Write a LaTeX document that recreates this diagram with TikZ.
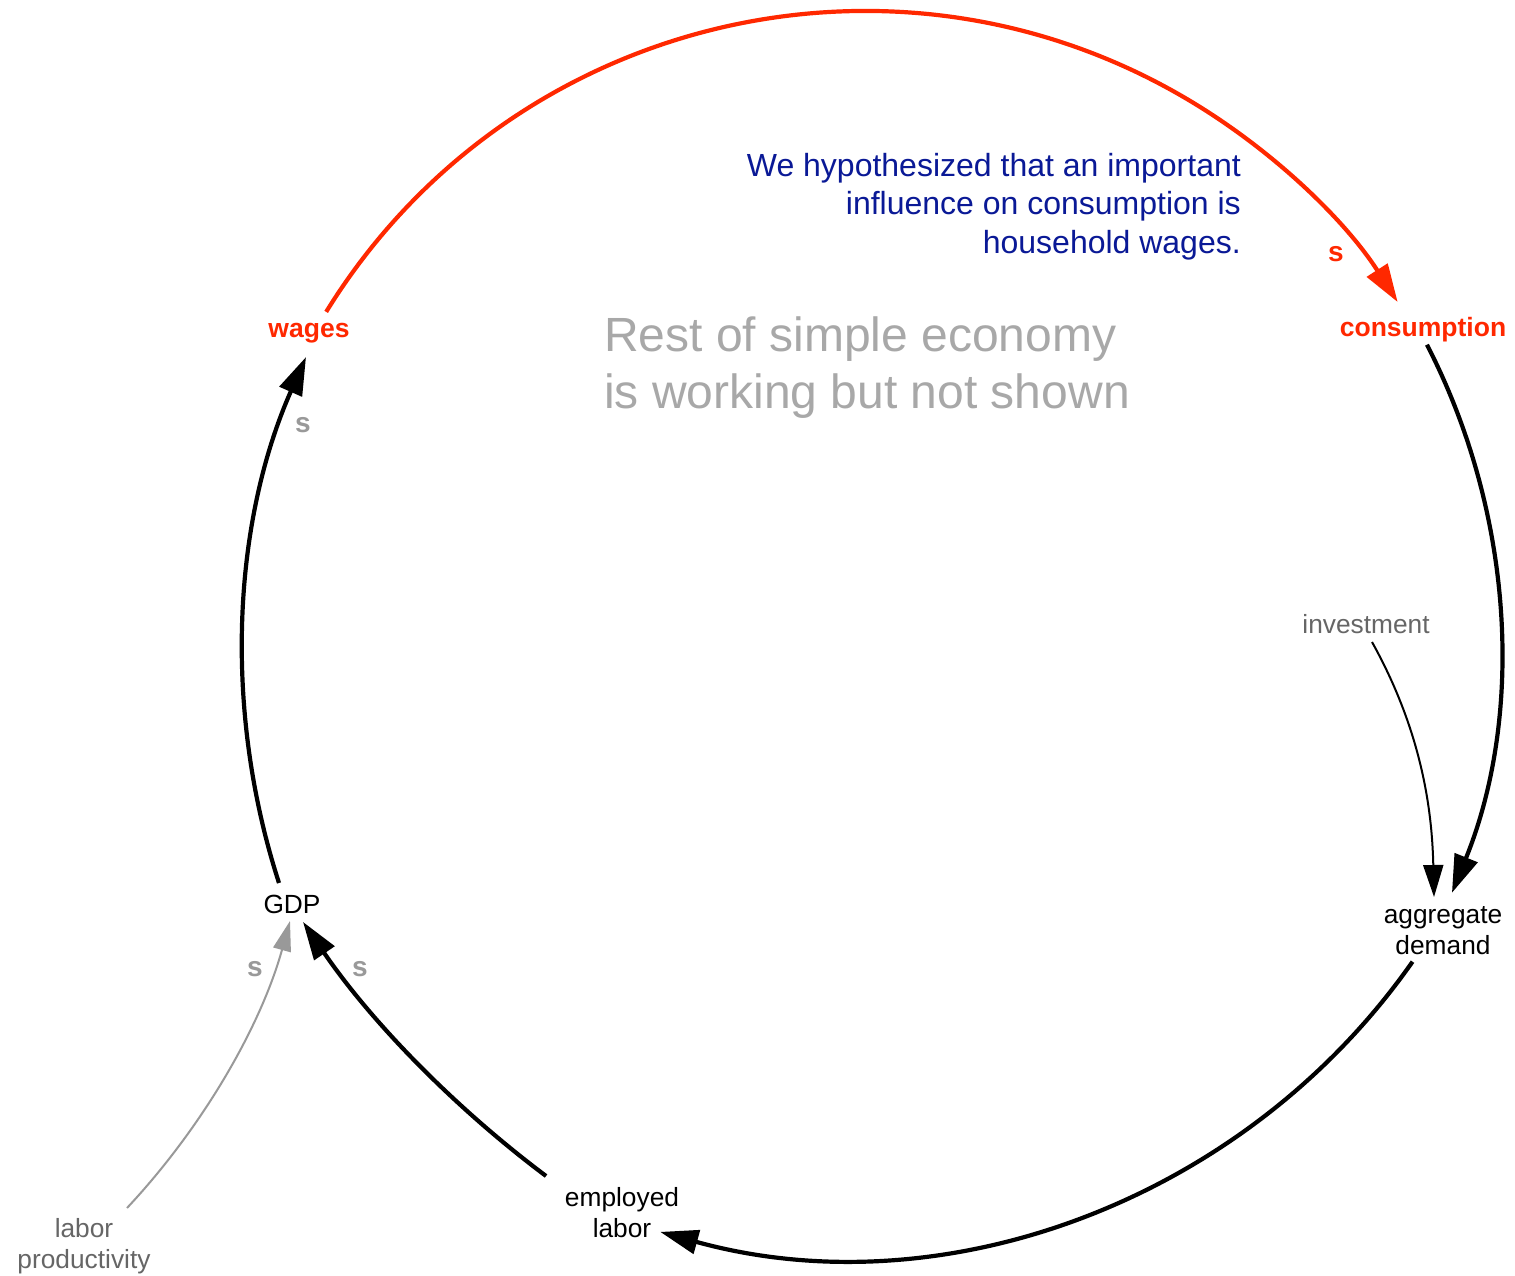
\documentclass[tikz,border=0pt]{standalone}
\usepackage{fontspec}
\setmainfont{Liberation Sans}
\usetikzlibrary{arrows.meta,calc}
\definecolor{loopred}{RGB}{255,40,0}
\definecolor{noteblue}{RGB}{10,25,150}
\definecolor{softgray}{RGB}{168,168,168}
\definecolor{midgray}{RGB}{153,153,153}
\definecolor{labgray}{RGB}{102,102,102}
\begin{document}
\begin{tikzpicture}[x=1pt,y=1pt,
  lbl/.style={inner sep=0pt, font={\fontsize{26.3}{31}\selectfont}, align=center},
  keyvar/.style={inner sep=0pt, font={\fontsize{26.5}{31}\selectfont\bfseries}, text=loopred, anchor=base},
  polarity/.style={inner sep=0pt, font={\fontsize{28}{31}\selectfont\bfseries}, text=midgray, anchor=base},
  mainlink/.style={line width=4.2pt, -{Triangle[length=38pt,width=24pt]}},
  redlink/.style={mainlink, draw=loopred},
  thinlink/.style={line width=2pt, -{Triangle[length=32pt,width=20pt]}},
  graylink/.style={line width=2pt, draw=midgray, -{Triangle[length=30pt,width=18pt]}}
]
\fill[white] (0,0) rectangle (1515,-1276);
\useasboundingbox (0,0) rectangle (1515,-1276);

% variables
\node[keyvar] (wages) at (309,-337) {wages};
\node[keyvar] (consumption) at (1423,-336) {consumption};
\node[lbl, anchor=base] (gdp) at (292,-913) {GDP};
\node[lbl] (agg) at (1443,-930.5) {aggregate\\demand};
\node[lbl] (emp) at (622,-1213) {employed\\labor};
\node[lbl, text=labgray, anchor=base] (inv) at (1366,-633) {investment};
\node[lbl, text=labgray] (prod) at (84,-1246) {labor\\productivity};

% polarity labels
\node[polarity, text=loopred] (s1) at (1336,-261) {s};
\node[polarity] (s2) at (303,-432) {s};
\node[polarity] (s3) at (255,-976) {s};
\node[polarity] (s4) at (360,-976) {s};

% texts
\node[inner sep=0pt, font={\fontsize{32}{38.5}\selectfont}, text=noteblue, align=right, anchor=east] (note) at (1241,-206.5)
  {We hypothesized that an important\\influence on consumption is\\household wages.};
\node[inner sep=0pt, font={\fontsize{48}{57}\selectfont}, text=softgray, align=left, anchor=west] (rest) at (604,-367.5)
  {Rest of simple economy\\is working but not shown};

% arc end points
\coordinate (wages-out) at ($(865,-644)+(148.35:633)$);
\coordinate (cons-out) at ($(842,-646)+(27.25:658)$);
\coordinate (agg-out) at ($(845,-564)+(-35.02:693)$);
\coordinate (emp-out) at ($(1189.4,-317.3)+(-126.84:1073)$);
\coordinate (gdp-out) at ($(981,-655.3)+(197.97:738)$);

% loop links
\draw[redlink] (wages-out) arc[start angle=148.35, end angle=32.7, radius=633];
\draw[mainlink] (cons-out) arc[start angle=27.25, end angle=-22.03, radius=658];
\draw[mainlink] (agg-out) arc[start angle=-35.02, end angle=-105.46, radius=693];
\draw[mainlink] (emp-out) arc[start angle=-126.84, end angle=-145.70, radius=1073];
\draw[mainlink] (gdp-out) arc[start angle=197.97, end angle=156.16, radius=738];

% external inputs
\coordinate (inv-out) at (1372,-642);
\coordinate (agg-in) at (1434,-897);
\draw[thinlink] (inv-out) .. controls (1420.6,-729.4) and (1432,-807) .. (agg-in);
\coordinate (prod-out) at (127,-1208);
\coordinate (gdp-in) at (290,-921);
\draw[graylink] (prod-out) .. controls (202,-1128) and (260.6,-1027) .. (gdp-in);
\end{tikzpicture}
\end{document}
